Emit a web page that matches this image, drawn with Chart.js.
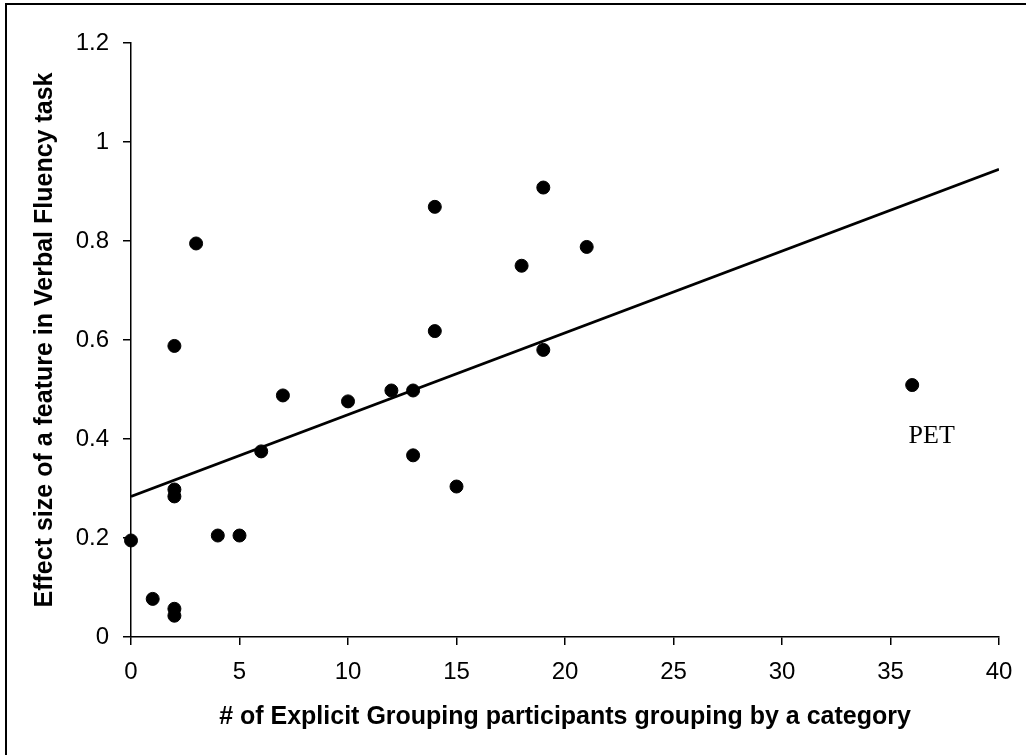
<!DOCTYPE html>
<html>
<head>
<meta charset="utf-8">
<script src="https://cdn.jsdelivr.net/npm/chart.js@4/dist/chart.umd.min.js"></script>
<style>
  html, body { margin: 0; padding: 0; background: #fff; overflow: hidden; }
  #wrap { position: relative; width: 1026px; height: 755px; }
  #frame {
    position: absolute; left: 5px; top: 3px; width: 1100px; height: 800px;
    border-top: 2px solid #000; border-left: 2px solid #000; box-sizing: border-box;
  }
  canvas { position: absolute; left: 0; top: 0; }
</style>
</head>
<body>
<div id="wrap">
  <div id="frame"></div>
  <canvas id="chart" width="1026" height="755"></canvas>
</div>
<script>
// participants grouping by a category (x) vs effect size (y)
const groupCounts = [0, 1, 2, 2, 2, 2, 2, 3, 4, 5, 6, 7, 10, 12, 13, 13, 14, 14, 15, 18, 19, 19, 21, 36];
const effectSizes = [0.195, 0.077, 0.057, 0.043, 0.298, 0.284, 0.588, 0.795, 0.205, 0.205, 0.375, 0.488,
                     0.476, 0.498, 0.498, 0.367, 0.618, 0.869, 0.304, 0.75, 0.908, 0.58, 0.788, 0.509];

// fitted trend line, read at its two ends
const trendX = [0, 40];
const trendY = [0.284, 0.945];

const yTicks = [0, 0.2, 0.4, 0.6, 0.8, 1, 1.2];
const yTickLabels = ['0', '0.2', '0.4', '0.6', '0.8', '1', '1.2'];
const xTicks = [0, 5, 10, 15, 20, 25, 30, 35, 40];

const petLabel = { x: 36.9, y: 0.405, text: 'PET' };

const sans = "'Liberation Sans', Arial, sans-serif";

const pointData = groupCounts.map((g, i) => ({ x: g, y: effectSizes[i] }));
const trendData = trendX.map((t, i) => ({ x: t, y: trendY[i] }));

const labelPlugin = {
    id: 'petLabel',
    afterDatasetsDraw(chart) {
        const { ctx, scales } = chart;
        ctx.save();
        ctx.font = "26px 'Liberation Serif', 'Times New Roman', serif";
        ctx.fillStyle = '#000';
        ctx.textAlign = 'center';
        ctx.textBaseline = 'middle';
        ctx.fillText(petLabel.text, scales.x.getPixelForValue(petLabel.x), scales.y.getPixelForValue(petLabel.y));
        ctx.restore();
    }
};

const ctx = document.getElementById('chart').getContext('2d');
new Chart(ctx, {
    type: 'scatter',
    data: {
        datasets: [{
            data: pointData,
            backgroundColor: '#000',
            borderColor: '#000',
            pointRadius: 6.5,
            pointHoverRadius: 6.5,
            clip: false
        }, {
            data: trendData,
            showLine: true,
            borderColor: '#000',
            borderWidth: 2.8,
            pointRadius: 0,
            fill: false
        }]
    },
    options: {
        responsive: false,
        animation: false,
        layout: { padding: { left: 0, top: 43, right: 27, bottom: 0 } },
        plugins: { legend: { display: false }, tooltip: { enabled: false } },
        scales: {
            x: {
                type: 'linear',
                min: 0,
                max: 40,
                afterBuildTicks: (scale) => { scale.ticks = xTicks.map(v => ({ value: v })); },
                afterFit: (scale) => { scale.height = 118; },
                grid: { drawOnChartArea: false, drawTicks: true, tickLength: 8, color: '#000', lineWidth: 1.5 },
                border: { display: true, color: '#000', width: 1.5 },
                ticks: { color: '#000', padding: 13, font: { family: sans, size: 24 }, maxRotation: 0 },
                title: {
                    display: true,
                    text: '# of Explicit Grouping participants grouping by a category',
                    color: '#000',
                    font: { family: sans, size: 25, weight: 'bold' },
                    padding: { top: 0, bottom: 23 }
                }
            },
            y: {
                type: 'linear',
                min: 0,
                max: 1.2,
                afterBuildTicks: (scale) => { scale.ticks = yTicks.map(v => ({ value: v })); },
                afterFit: (scale) => { scale.width = 131; },
                grid: { drawOnChartArea: false, drawTicks: true, tickLength: 8, color: '#000', lineWidth: 1.5 },
                border: { display: true, color: '#000', width: 1.5 },
                ticks: {
                    color: '#000',
                    padding: 14,
                    font: { family: sans, size: 24 },
                    callback: (value, index) => yTickLabels[index]
                },
                title: {
                    display: true,
                    text: 'Effect size of a feature in Verbal Fluency task',
                    color: '#000',
                    font: { family: sans, size: 25, weight: 'bold' },
                    padding: { top: 30, bottom: 0 }
                }
            }
        }
    },
    plugins: [labelPlugin]
});
</script>
</body>
</html>
